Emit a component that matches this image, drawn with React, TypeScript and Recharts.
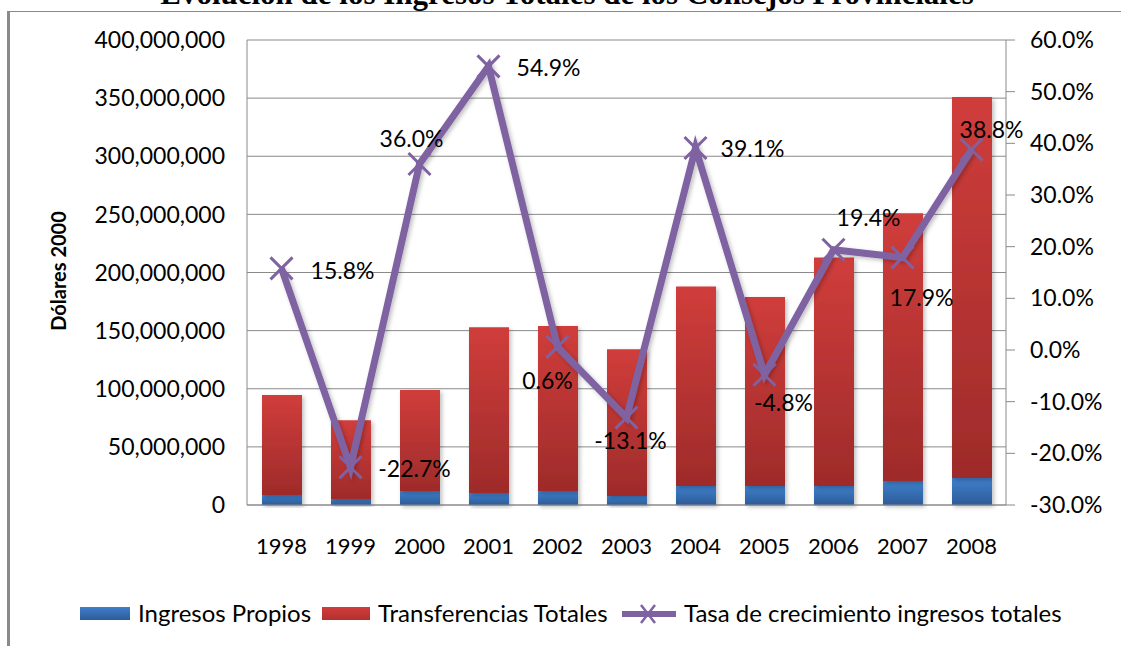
import React from "react"
import {
  Bar,
  CartesianGrid,
  ComposedChart,
  LabelList,
  Line,
  XAxis,
  YAxis,
} from "recharts"

// values
const years = ["1998", "1999", "2000", "2001", "2002", "2003", "2004", "2005", "2006", "2007", "2008"]
const ingresosPropios = [8600000, 5200000, 12000000, 10300000, 12000000, 7700000, 16300000, 16300000, 16300000, 20600000, 23200000]
const transferencias = [86000000, 67800000, 86900000, 142700000, 142000000, 126300000, 171700000, 162700000, 196700000, 230400000, 327800000]
const tasa = [15.8, -22.7, 36.0, 54.9, 0.6, -13.1, 39.1, -4.8, 19.4, 17.9, 38.8]

const leftTicks = [0, 50000000, 100000000, 150000000, 200000000, 250000000, 300000000, 350000000, 400000000]
const rightTicks = [-30, -20, -10, 0, 10, 20, 30, 40, 50, 60]

// where each growth label sits relative to its point (centre offset, px)
const labelOffsets = [
  [61, 2], [64, 1], [-8, -26], [60, 1], [-10, 33], [4, 22],
  [57, 0], [19, 27], [35, -33], [19, 39], [20, -21],
]

const data = years.map((year, i) => ({
  year,
  propios: ingresosPropios[i],
  transferencias: transferencias[i],
  tasa: tasa[i],
}))

const PURPLE = "#7f62a1"
const GRID = "#8a8a8a"
const FONT = "Lato, 'Open Sans', sans-serif"

const XDot = (props: any) => {
  const { cx, cy } = props
  if (cx == null || cy == null) return null
  return (
    <path
      d={`M${cx - 11},${cy - 11}L${cx + 11},${cy + 11}M${cx + 11},${cy - 11}L${cx - 11},${cy + 11}`}
      stroke={PURPLE}
      strokeWidth={3}
      fill="none"
    />
  )
}

const GrowthLabel = (props: any) => {
  const { x, y, value, index } = props
  const [dx, dy] = labelOffsets[index] || [0, 0]
  return (
    <text
      x={x + dx}
      y={y + dy}
      textAnchor="middle"
      dominantBaseline="central"
      fontSize={23}
      fontFamily={FONT}
      fill="#000"
    >
      {`${Number(value).toFixed(1)}%`}
    </text>
  )
}

export default function App() {
  return (
    <div
      style={{
        position: "absolute",
        left: 0,
        top: 0,
        width: 1121,
        height: 646,
        overflow: "hidden",
        background: "#fff",
      }}
    >
      {/* frame of the embedded chart */}
      <div
        style={{
          position: "absolute",
          left: 7,
          top: 11,
          width: 1400,
          height: 800,
          borderLeft: "3px solid #8a8a8a",
          borderTop: "1px solid #8a8a8a",
        }}
      />
      <div
        style={{
          position: "absolute",
          left: 0,
          top: -22,
          width: 1134,
          textAlign: "center",
          fontFamily: "'Liberation Serif', 'Times New Roman', serif",
          fontWeight: "bold",
          fontSize: 31,
          lineHeight: "31px",
          whiteSpace: "nowrap",
        }}
      >
        Evolución de los Ingresos Totales de los Consejos Provinciales
      </div>

      <div style={{ position: "absolute", left: 0, top: 0 }}>
        <ComposedChart
          width={1121}
          height={646}
          data={data}
          margin={{ top: 40, right: 15, bottom: 101, left: 147 }}
        >
          <defs>
            <linearGradient id="blueGrad" x1="0" y1="0" x2="0" y2="1">
              <stop offset="0%" stopColor="#3f7fcc" />
              <stop offset="100%" stopColor="#2d5c97" />
            </linearGradient>
            <linearGradient id="redGrad" x1="0" y1="0" x2="0" y2="1">
              <stop offset="0%" stopColor="#d03d3b" />
              <stop offset="100%" stopColor="#9e2b2a" />
            </linearGradient>
            <filter id="softShadow" x="-20%" y="-20%" width="150%" height="150%">
              <feDropShadow dx="2" dy="2" stdDeviation="2" floodColor="#000" floodOpacity="0.25" />
            </filter>
          </defs>
          <CartesianGrid yAxisId="left" vertical={false} stroke={GRID} />
          <XAxis
            dataKey="year"
            height={40}
            tickLine={false}
            tickSize={0}
            tickMargin={33}
            axisLine={{ stroke: GRID }}
            tick={{ fill: "#000", fontSize: 22, fontFamily: FONT }}
          />
          <YAxis
            yAxisId="left"
            width={100}
            domain={[0, 400000000]}
            ticks={leftTicks}
            interval={0}
            tickLine={false}
            tickSize={0}
            tickMargin={22}
            axisLine={{ stroke: GRID }}
            tick={{ fill: "#000", fontSize: 23, fontFamily: FONT }}
            tickFormatter={(v) => Number(v).toLocaleString("en-US")}
            label={{
              value: "Dólares 2000",
              content: () => (
                <text
                  transform="translate(58,271) rotate(-90)"
                  textAnchor="middle"
                  dominantBaseline="central"
                  fontSize={20}
                  fontWeight="bold"
                  fontFamily={FONT}
                  fill="#000"
                >
                  Dólares 2000
                </text>
              ),
            }}
          />
          <YAxis
            yAxisId="right"
            orientation="right"
            width={100}
            domain={[-30, 60]}
            ticks={rightTicks}
            interval={0}
            tickSize={9}
            tickMargin={15}
            tickLine={{ stroke: GRID }}
            axisLine={{ stroke: GRID }}
            tick={{ fill: "#000", fontSize: 23, fontFamily: FONT, textAnchor: "start" }}
            tickFormatter={(v) => `${Number(v).toFixed(1)}%`}
          />
          <Bar
            yAxisId="left"
            dataKey="propios"
            stackId="a"
            barSize={40}
            fill="url(#blueGrad)"
            filter="url(#softShadow)"
            isAnimationActive={false}
          />
          <Bar
            yAxisId="left"
            dataKey="transferencias"
            stackId="a"
            barSize={40}
            fill="url(#redGrad)"
            filter="url(#softShadow)"
            isAnimationActive={false}
          />
          <Line
            yAxisId="right"
            dataKey="tasa"
            stroke={PURPLE}
            strokeWidth={7}
            dot={<XDot />}
            activeDot={false}
            filter="url(#softShadow)"
            isAnimationActive={false}
          >
            <LabelList dataKey="tasa" content={<GrowthLabel />} />
          </Line>
        </ComposedChart>
      </div>

      {/* legend */}
      <div
        style={{
          position: "absolute",
          top: 600,
          left: 0,
          height: 26,
          fontFamily: FONT,
          fontSize: 24,
          color: "#000",
        }}
      >
        <div style={{ position: "absolute", left: 80, top: 7 }}>
          <div style={{ width: 50, height: 13, background: "linear-gradient(#3f7fcc, #2d5c97)" }} />
        </div>
        <div style={{ position: "absolute", left: 138, top: 0, whiteSpace: "nowrap", lineHeight: "26px" }}>
          Ingresos Propios
        </div>
        <div style={{ position: "absolute", left: 322, top: 7 }}>
          <div style={{ width: 48, height: 13, background: "linear-gradient(#d03d3b, #b2302e)" }} />
        </div>
        <div style={{ position: "absolute", left: 378, top: 0, whiteSpace: "nowrap", lineHeight: "26px" }}>
          Transferencias Totales
        </div>
        <svg style={{ position: "absolute", left: 620, top: 2 }} width={58} height={24}>
          <line x1={2} y1={12} x2={56} y2={12} stroke={PURPLE} strokeWidth={6} />
          <path d="M21,3L35,21M35,3L21,21" stroke={PURPLE} strokeWidth={2.5} />
        </svg>
        <div style={{ position: "absolute", left: 684, top: 0, whiteSpace: "nowrap", lineHeight: "26px" }}>
          Tasa de crecimiento ingresos totales
        </div>
      </div>
    </div>
  )
}
